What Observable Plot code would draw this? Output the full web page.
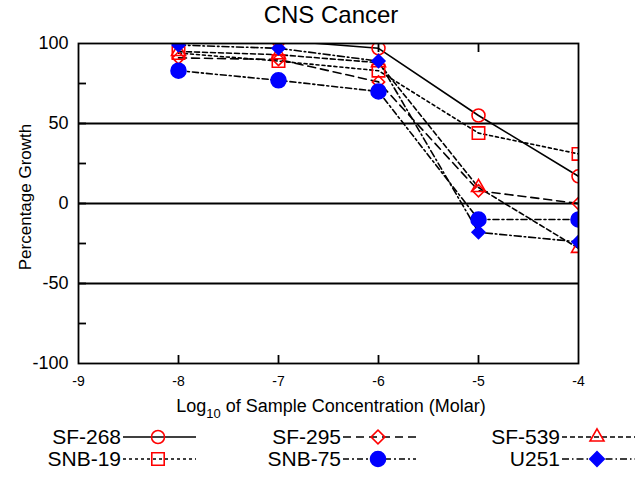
<!DOCTYPE html>
<html><head><meta charset="utf-8">
<script src="https://cdn.jsdelivr.net/npm/d3@7"></script>
<script src="https://cdn.jsdelivr.net/npm/@observablehq/plot@0.6"></script>
<style>
body{margin:0;background:#fff;font-family:"Liberation Sans",Arial,sans-serif;color:#000;}
#wrap{position:relative;width:644px;height:491px;overflow:hidden;}
#title{position:absolute;left:78px;width:506px;top:1px;text-align:center;font-size:24px;line-height:28px;}
#plot{position:absolute;left:0;top:30px;}
#xlabel{position:absolute;left:78px;width:506px;top:395px;text-align:center;font-size:18px;line-height:22px;}
#xlabel sub{font-size:13px;vertical-align:-6px;line-height:0;}
#legend{position:absolute;left:0;top:425px;}
</style></head><body>
<div id="wrap">
  <div id="title">CNS Cancer</div>
  <div id="plot"></div>
  <div id="xlabel">Log<sub>10</sub> of Sample Concentration (Molar)</div>
  <div id="legend"></div>
</div>
<script>
// ---- data ----
const concentrations = [-8, -7, -6, -5, -4];
const sf268 = [103, 102, 97, 55, 17];
const sf295 = [91, 90, 76, 8, 0];
const sf539 = [95, 93, 88, 10, -28];
const snb19 = [94, 89, 83, 44, 31];
const snb75 = [83, 77, 70, -10, -10];
const u251 = [99, 97, 89, -18, -24];
const seriesNames = ["SF-268", "SF-295", "SF-539", "SNB-19", "SNB-75", "U251"];
const xTicks = [-9, -8, -7, -6, -5, -4];
const yLabelTicks = [100, 50, 0, -50, -100];
const yMinorTicks = [75, 50, 25, 0, -25, -50, -75];
const gridLines = [50, 0, -50];
const yTitle = "Percentage Growth";

// ---- styles ----
const styles = {
  "SF-268": {values: sf268, symbol: "circle", r: 6.5, fill: "none", stroke: "#ff0000", dash: null},
  "SF-295": {values: sf295, symbol: "diamond2", r: 5.5, fill: "none", stroke: "#ff0000", dash: "8,5"},
  "SF-539": {values: sf539, symbol: "triangle", r: 5.2, fill: "none", stroke: "#ff0000", dash: "5,3"},
  "SNB-19": {values: snb19, symbol: "square", r: 7, fill: "none", stroke: "#ff0000", dash: "3,3"},
  "SNB-75": {values: snb75, symbol: "circle", r: 7.5, fill: "#0000ff", stroke: "#0000ff", dash: "6,3,2,3"},
  "U251": {values: u251, symbol: "diamond2", r: 5.8, fill: "#0000ff", stroke: "#0000ff", dash: "7,3,1.5,3"}
};

const rows = seriesNames.flatMap(name =>
  concentrations.map((c, i) => ({series: name, x: c, y: styles[name].values[i]})));

const fmt = d => String(d);
const marks = [
  Plot.ruleY(gridLines, {stroke: "black", strokeWidth: 1.8}),
  Plot.axisY(yLabelTicks, {anchor: "left", tickSize: 0, tickPadding: 10, fontSize: 18, tickFormat: fmt, label: null}),
  Plot.axisY(yMinorTicks, {anchor: "left", tickSize: -8, strokeWidth: 1.8, tickFormat: () => "", label: null}),
  Plot.axisX(xTicks, {anchor: "bottom", tickSize: 0, tickPadding: 13, fontSize: 14, tickFormat: fmt, label: null}),
  Plot.axisX(xTicks.slice(1, -1), {anchor: "bottom", tickSize: -8, strokeWidth: 1.8, tickFormat: () => "", label: null}),
  Plot.axisX(xTicks.slice(1, -1), {anchor: "top", tickSize: -8, strokeWidth: 1.8, tickFormat: () => "", label: null})
];
for (const name of seriesNames) {
  const s = styles[name];
  const data = rows.filter(d => d.series === name);
  marks.push(Plot.line(data, {x: "x", y: "y", stroke: "black", strokeWidth: 1.6, strokeDasharray: s.dash, clip: true}));
}
for (const name of seriesNames) {
  const s = styles[name];
  const data = rows.filter(d => d.series === name);
  marks.push(Plot.dot(data, {x: "x", y: "y", symbol: s.symbol, r: s.r, fill: s.fill, stroke: s.stroke, strokeWidth: 1.6, clip: true}));
}
marks.push(Plot.frame({stroke: "black", strokeWidth: 1.8}));

const chart = Plot.plot({
  width: 644, height: 395,
  marginTop: 13, marginLeft: 78, marginRight: 66, marginBottom: 62,
  x: {domain: [-9, -4]},
  y: {domain: [-100, 100]},
  style: {fontFamily: "Liberation Sans, Arial, sans-serif", fontSize: "16px", color: "black", background: "white"},
  marks
});
document.getElementById("plot").appendChild(chart);

// y-axis title
d3.select(chart).append("text")
  .attr("transform", "translate(25,167) rotate(-90)")
  .attr("text-anchor", "middle").attr("dy", "0.35em")
  .attr("font-size", 17).attr("fill", "black").text(yTitle);

// ---- legend ----
const legendCols = [121, 341, 560];
const legendRows = [12, 34];
const lg = d3.select("#legend").append("svg").attr("width", 644).attr("height", 66)
  .style("font-family", "Liberation Sans, Arial, sans-serif");
const symbolMap = {circle: d3.symbolCircle, diamond2: d3.symbolSquare, triangle: d3.symbolTriangle, square: d3.symbolSquare};
seriesNames.forEach((name, i) => {
  const s = styles[name];
  const x0 = legendCols[i % 3], y0 = legendRows[Math.floor(i / 3)];
  const g = lg.append("g").attr("transform", `translate(${x0},${y0})`);
  g.append("text").attr("text-anchor", "end").attr("dy", "0.35em").attr("x", 0).attr("font-size", 21).text(name);
  g.append("line").attr("x1", 2).attr("x2", 75).attr("stroke", "black").attr("stroke-width", 1.6)
    .attr("stroke-dasharray", s.dash);
  const sym = d3.symbol(symbolMap[s.symbol], s.r * s.r * Math.PI)();
  g.append("path").attr("d", sym)
    .attr("transform", `translate(37,0)${s.symbol === "diamond2" ? " rotate(45)" : ""}`)
    .attr("fill", s.fill).attr("stroke", s.stroke).attr("stroke-width", 1.6);
});
</script>
</body></html>
